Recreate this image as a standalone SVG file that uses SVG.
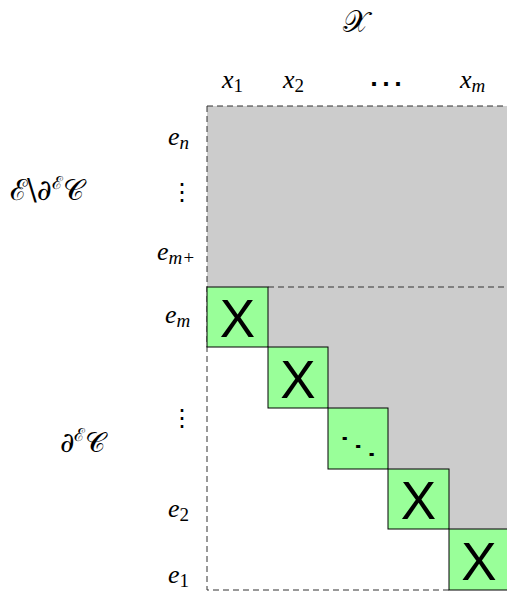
<svg xmlns="http://www.w3.org/2000/svg" width="507" height="592" viewBox="0 0 507 592">
<style>
.m{font-family:'Liberation Serif','Times New Roman',serif;font-style:italic;font-size:26px;fill:#000}
.s{font-size:19px;font-style:normal}
.si{font-size:19px}
.cal{font-family:'DejaVu Serif',serif;font-style:normal;fill:#000}
.d{font-family:'DejaVu Serif',serif;fill:#000;text-anchor:middle}
.sq{fill:#99ff99;stroke:#000;stroke-width:1}
.X{font-family:'Liberation Sans',Arial,sans-serif;font-size:53px;fill:#000;text-anchor:middle}
.dash{fill:none;stroke:#333;stroke-width:1;stroke-dasharray:6 4}
</style>
<rect width="507" height="592" fill="#fff"/>
<g id="matrix">
<polygon points="207,106 510,106 510,529 449,529 449,469 388,469 388,408 328,408 328,347 268,347 268,287 207,287" fill="#cccccc"/>
</g>
<g id="connectors">
<path class="dash" d="M207,106 H510 M207,106 V590 H449 M268,287 H510"/>
</g>
<g id="diag1"><rect class="sq" x="207" y="287" width="61" height="60"/><text class="X" x="237.5" y="337">X</text></g>
<g id="diag2"><rect class="sq" x="268" y="347" width="60" height="61"/><text class="X" x="298" y="398">X</text></g>
<g id="diag3"><rect class="sq" x="328" y="408" width="60" height="61"/><text class="d" transform="translate(358,446) scale(1,0.57)" x="0" y="12" font-size="40">⋱</text></g>
<g id="diag4"><rect class="sq" x="388" y="469" width="61" height="60"/><text class="X" x="418.5" y="519">X</text></g>
<g id="diag5"><rect class="sq" x="449" y="529" width="61" height="61"/><text class="X" x="479" y="580">X</text></g>
<g id="colX"><text class="cal" x="356" y="32" font-size="30" text-anchor="middle">𝒳</text></g>
<g id="cols">
<text class="m" x="222" y="88">x<tspan class="s" dy="4">1</tspan></text>
<text class="m" x="283" y="88">x<tspan class="s" dy="4">2</tspan></text>
<text class="d" x="386" y="96" font-size="36">⋯</text>
<text class="m" x="460" y="88">x<tspan class="si" dy="4">m</tspan></text>
</g>
<g id="rows">
<text class="m" x="168" y="145">e<tspan class="si" dy="4">n</tspan></text>
<text class="d" x="182" y="200" font-size="24">⋮</text>
<text class="m" x="157" y="260">e<tspan class="si" dy="4">m+</tspan></text>
<text class="m" x="165" y="323">e<tspan class="si" dy="4">m</tspan></text>
<text class="d" x="182" y="426" font-size="24">⋮</text>
<text class="m" x="168" y="517">e<tspan class="s" dy="4">2</tspan></text>
<text class="m" x="168" y="583">e<tspan class="s" dy="4">1</tspan></text>
</g>
<g id="setA"><text class="cal" x="10" y="200" font-size="29">ℰ\∂<tspan font-size="18" dy="-11">ℰ</tspan><tspan dy="11">𝒞</tspan></text></g>
<g id="setB"><text class="cal" x="60" y="452" font-size="28">∂<tspan font-size="18" dy="-11">ℰ</tspan><tspan dy="11">𝒞</tspan></text></g>
</svg>
